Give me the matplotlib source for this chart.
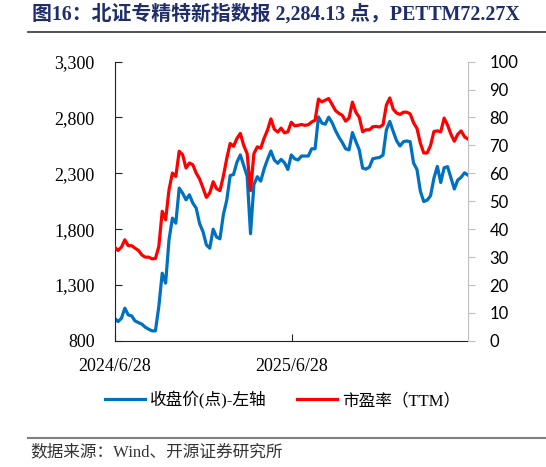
import numpy as np
import pandas as pd
import matplotlib
matplotlib.use("Agg")
import matplotlib.pyplot as plt
from matplotlib.lines import Line2D
from matplotlib.ticker import FuncFormatter

# weekly readings, starting 2024/6/28
close = [1003, 973, 1003, 1093, 1033, 1024, 979, 964, 950, 923,
         905, 890, 890, 1108, 1406, 1317, 1705, 1899, 1854, 2168,
         2123, 2063, 2108, 2034, 1989, 1850, 1779, 1660, 1630, 1800,
         1730, 1714, 1930, 2060, 2280, 2290, 2400, 2465, 2370, 2275,
         1760, 2200, 2270, 2230, 2340, 2425, 2500, 2420, 2390, 2425,
         2395, 2335, 2465, 2430, 2420, 2455, 2455, 2455, 2520, 2520,
         2805, 2750, 2740, 2803, 2755, 2684, 2625, 2577, 2520, 2510,
         2665, 2586, 2511, 2347, 2338, 2356, 2431, 2437, 2443, 2464,
         2690, 2765, 2675, 2592, 2545, 2583, 2590, 2583, 2392, 2335,
         2140, 2048, 2060, 2100, 2258, 2362, 2218, 2350, 2360, 2260,
         2160, 2240, 2265, 2305, 2284.13]
pe_ttm = [33.6, 32.4, 33.6, 36.2, 34.1, 34.1, 33.2, 32.4, 30.8, 30.0,
          30.0, 29.4, 29.5, 33.8, 46.4, 43.4, 54.1, 60.1, 58.9, 67.9,
          66.7, 61.9, 63.7, 63.1, 60.1, 58.0, 54.8, 51.4, 53.0, 57.0,
          54.5, 53.8, 59.0, 65.3, 70.7, 69.7, 72.5, 74.3, 70.0, 67.1,
          53.8, 67.1, 69.5, 69.0, 72.6, 75.5, 79.5, 75.8, 74.8, 76.2,
          74.5, 74.9, 78.3, 77.0, 77.2, 77.5, 77.2, 77.4, 78.4, 79.0,
          86.6, 85.6, 86.2, 86.8, 84.7, 82.5, 81.5, 80.8, 78.7, 79.8,
          85.5, 81.9, 80.1, 74.9, 75.6, 75.6, 76.7, 76.8, 76.6, 77.4,
          84.5, 87.0, 83.0, 81.6, 81.1, 81.9, 81.9, 81.3, 78.1, 76.1,
          70.8, 67.3, 67.3, 70.0, 75.0, 75.2, 74.9, 79.8, 77.3, 74.0,
          71.5, 74.0, 75.2, 73.1, 72.27]
dates = pd.date_range("2024-06-28", periods=len(close), freq="7D")

tick_dates = ["2024-06-28", "2025-06-28"]
tick_labels = ["2024/6/28", "2025/6/28"]
series_names = ["收盘价(点)-左轴", "市盈率（TTM）"]
title = "图16：北证专精特新指数报 2,284.13 点，PETTM72.27X"
source = "数据来源：Wind、开源证券研究所"

serif_cjk = ["Liberation Serif", "Noto Sans CJK SC"]
blue = "#0070C0"
red = "#FF0000"

fig = plt.figure(figsize=(5.46, 4.67), dpi=100)
ax = fig.add_axes([0.210, 0.270, 0.647, 0.598])
ax2 = ax.twinx()

l1, = ax.plot(dates, close, color=blue, lw=2.3, solid_joinstyle="round")
l2, = ax2.plot(dates, pe_ttm, color=red, lw=2.3, solid_joinstyle="round")

ax.set_xlim(dates[0], dates[-1])
ax.set_ylim(800, 3300)
ax.set_yticks(np.arange(800, 3301, 500))
ax.yaxis.set_major_formatter(FuncFormatter(lambda v, p: f"{v:,.0f}"))
ax2.set_ylim(0, 100)
ax2.set_yticks(np.arange(0, 101, 10))

ax.set_xticks([pd.Timestamp(d) for d in tick_dates])
ax.set_xticklabels(tick_labels)

for a in (ax, ax2):
    a.spines["top"].set_visible(False)
ax.spines["right"].set_visible(False)
ax2.spines["left"].set_visible(False)
ax2.spines["bottom"].set_visible(False)
ax2.spines["right"].set_color("#BFBFBF")
ax.spines["left"].set_color("#222222")
ax.spines["bottom"].set_color("#222222")

ax.tick_params(axis="y", direction="in", length=5, pad=14.5, color="#222222")
ax.tick_params(axis="x", direction="in", length=5, pad=12, color="#222222")
ax2.tick_params(axis="y", direction="out", length=5, pad=10.5, color="#BFBFBF")
for lab in ax.get_yticklabels() + ax.get_xticklabels():
    lab.set_fontfamily("Liberation Serif")
    lab.set_fontsize(13)
for lab in ax2.get_yticklabels():
    lab.set_fontfamily("Lato")
    lab.set_fontsize(12)

fig.text(0.058, 0.970, title, fontsize=14.3, fontweight="bold", color="#1F2D6B",
         family=serif_cjk, ha="left", va="center")
fig.add_artist(Line2D([0.052, 1.0], [0.932, 0.932], color="#333333", lw=1.2))

fig.legend([l1, l2], series_names, loc="center", bbox_to_anchor=(0.518, 0.143),
           ncol=2, frameon=False, handlelength=2.4, handletextpad=0.3,
           columnspacing=1.8, prop={"family": serif_cjk, "size": 12})

fig.add_artist(Line2D([0.052, 1.0], [0.0627, 0.0627], color="#808080", lw=1.5))
fig.text(0.055, 0.032, source, fontsize=12, color="#333333",
         family=serif_cjk, ha="left", va="center")

fig.savefig("out.png", dpi=100)
